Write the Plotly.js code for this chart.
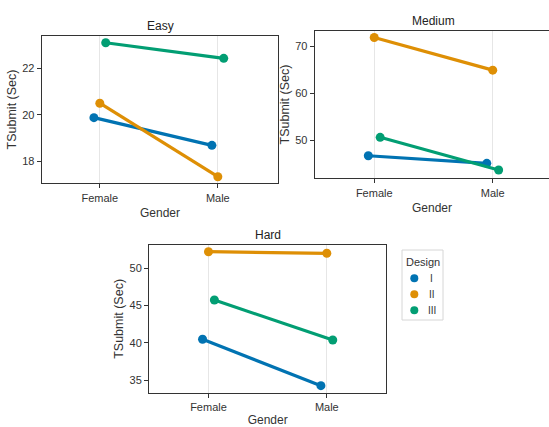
<!DOCTYPE html>
<html>
<head>
<meta charset="utf-8">
<script src="https://cdn.plot.ly/plotly-3.0.1.min.js"></script>
<style>
html,body{margin:0;padding:0;background:#fff;}
#chart{width:549px;height:427px;}
</style>
</head>
<body>
<div id="chart"></div>
<script>
// ---- data ----
const genders = ["Female", "Male"];
const designs = ["I", "II", "III"];
const panels = ["Easy", "Medium", "Hard"];
const easyI   = [19.88, 18.69];
const easyII  = [20.50, 17.34];
const easyIII = [23.10, 22.43];
const mediumI   = [46.8, 45.2];
const mediumII  = [71.8, 64.9];
const mediumIII = [50.7, 43.8];
const hardI   = [40.46, 34.24];
const hardII  = [52.18, 51.97];
const hardIII = [45.71, 40.36];
const easyTicks = [18, 20, 22];
const mediumTicks = [50, 60, 70];
const hardTicks = [35, 40, 45, 50];
const legendTitle = "Design";

const colors = ["#0173B2", "#DE8F05", "#029E73"];
const dodge = [-0.05, 0, 0.05];
const FONT = "'Liberation Sans', Arial, Helvetica, sans-serif";

const panelData = [
  [easyI, easyII, easyIII],
  [mediumI, mediumII, mediumIII],
  [hardI, hardII, hardIII]
];
const axSuffix = ["", "2", "3"];

const traces = [];
panelData.forEach((series, p) => {
  series.forEach((vals, d) => {
    traces.push({
      type: "scatter",
      mode: "lines+markers",
      name: designs[d],
      x: genders.map((g, i) => i + dodge[d]),
      y: vals,
      xaxis: "x" + axSuffix[p],
      yaxis: "y" + axSuffix[p],
      line: {color: colors[d], width: 3.2},
      marker: {color: colors[d], size: 9},
      showlegend: false,
      hoverinfo: "skip"
    });
  });
});

const W = 549, H = 427;
function xd(a, b) { return [a / W, Math.min(1, b / W)]; }
function yd(top, bottom) { return [1 - bottom / H, 1 - top / H]; }

// custom legend (seaborn style): box + marker column on a hidden axis
const LEG = {left: 402, right: 443, top: 250, bottom: 320, firstRow: 278.3, rowGap: 16, markerX: 12.3, textX: 29.5};
const legTop = -(LEG.firstRow - LEG.top) / LEG.rowGap;
const legBottom = legTop + (LEG.bottom - LEG.top) / LEG.rowGap;
traces.push({
  type: "scatter", mode: "markers",
  x: designs.map(() => LEG.markerX),
  y: designs.map((n, i) => i),
  marker: {color: colors, size: 8},
  xaxis: "x4", yaxis: "y4", showlegend: false, hoverinfo: "skip"
});

function xax(domain, range, anchor, mirror, standoff) {
  return {
    domain: domain, range: range, anchor: anchor,
    tickvals: genders.map((g, i) => i), ticktext: genders,
    showline: true, linecolor: "#333", linewidth: 1.3, mirror: mirror,
    ticks: "outside", ticklen: 4, tickcolor: "#333", tickwidth: 1,
    showgrid: true, gridcolor: "#e6e6e6", gridwidth: 1, zeroline: false,
    tickfont: {family: FONT, size: 11, color: "#333"},
    title: {text: "Gender", font: {family: FONT, size: 12, color: "#333"}, standoff: standoff}
  };
}
function yax(domain, range, anchor, ticks, mirror) {
  return {
    domain: domain, range: range, anchor: anchor,
    tickvals: ticks,
    showline: true, linecolor: "#333", linewidth: 1.3, mirror: mirror,
    ticks: "outside", ticklen: 4, tickcolor: "#333", tickwidth: 1,
    showgrid: false, zeroline: false,
    tickfont: {family: FONT, size: 11, color: "#333"},
    title: {text: "TSubmit (Sec)", font: {family: FONT, size: 12.5, color: "#333"}, standoff: 3}
  };
}

const annotations = [
  {text: panels[0], x: 160 / W, y: 1 - 26 / H},
  {text: panels[1], x: 433 / W, y: 1 - 20.7 / H},
  {text: panels[2], x: 268 / W, y: 1 - 235 / H}
].map(a => Object.assign(a, {xref: "paper", yref: "paper", xanchor: "center", yanchor: "middle", showarrow: false, font: {family: FONT, size: 12, color: "#222"}}));

annotations.push({
  text: legendTitle, xref: "x4", yref: "paper",
  x: (LEG.right - LEG.left) / 2, y: 1 - 261.5 / H,
  xanchor: "center", yanchor: "middle", showarrow: false,
  font: {family: FONT, size: 11, color: "#333"}
});
designs.forEach((n, i) => {
  annotations.push({
    text: n, xref: "x4", yref: "y4", x: LEG.textX, y: i,
    xanchor: "center", yanchor: "middle", showarrow: false,
    font: {family: FONT, size: 10, color: "#333"}
  });
});

const layout = {
  width: W, height: H,
  margin: {l: 0, r: 0, t: 0, b: 0},
  paper_bgcolor: "#fff", plot_bgcolor: "#fff",
  font: {family: FONT, color: "#333"},
  showlegend: false,
  xaxis:  xax(xd(42, 278), [-0.49, 1.51], "y", true, 6),
  yaxis:  yax(yd(36, 183), [17.07, 23.39], "x", easyTicks, true),
  xaxis2: xax(xd(315, 549), [-0.5, 1.475], "y2", true, 6),
  yaxis2: yax(yd(31, 178), [42.1, 73.17], "x2", mediumTicks, false),
  xaxis3: xax(xd(149.3, 386), [-0.5, 1.5], "y3", true, 5),
  yaxis3: yax(yd(245, 392.7), [33.3, 53.08], "x3", hardTicks, true),
  xaxis4: {domain: xd(LEG.left, LEG.right), range: [0, LEG.right - LEG.left], anchor: "y4", visible: false, fixedrange: true},
  yaxis4: {domain: yd(LEG.top, LEG.bottom), range: [legBottom, legTop], anchor: "x4", visible: false, fixedrange: true},
  shapes: [{
    type: "rect", xref: "paper", yref: "paper",
    x0: LEG.left / W, x1: LEG.right / W, y0: 1 - LEG.bottom / H, y1: 1 - LEG.top / H,
    line: {color: "#d6d6d6", width: 1}, fillcolor: "rgba(255,255,255,0)", layer: "below"
  }],
  annotations: annotations
};

Plotly.newPlot("chart", traces, layout, {staticPlot: true, displayModeBar: false});
</script>
</body>
</html>
